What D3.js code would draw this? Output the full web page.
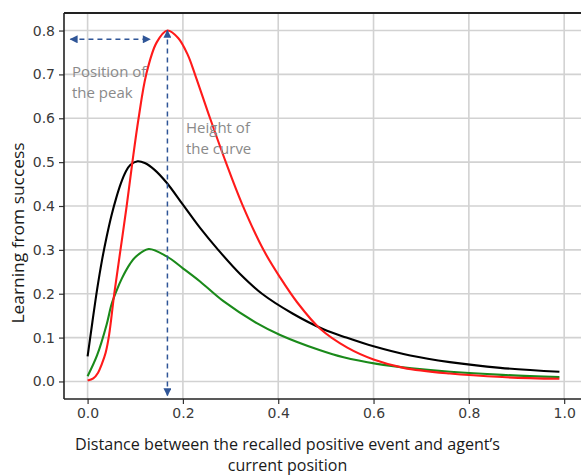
<!DOCTYPE html>
<html>
<head>
<meta charset="utf-8">
<script src="https://cdn.jsdelivr.net/npm/d3@7"></script>
<style>
  html, body { margin: 0; padding: 0; background: #fff; }
  svg { display: block; }
</style>
</head>
<body>
<svg id="chart" width="581" height="475"></svg>
<script>
// Learning-from-success curves: [distance, value] pairs per curve
const redCurve = [
  [0, 0.002], [0.012, 0.007], [0.022, 0.02], [0.03, 0.04], [0.038, 0.066],
  [0.045, 0.105], [0.056, 0.2], [0.069, 0.3], [0.082, 0.4], [0.094, 0.5],
  [0.107, 0.6], [0.123, 0.7], [0.145, 0.773], [0.1675, 0.8], [0.19, 0.783],
  [0.21, 0.745], [0.226, 0.698], [0.257, 0.6], [0.29, 0.5], [0.324, 0.405],
  [0.369, 0.3], [0.404, 0.237], [0.44, 0.18], [0.488, 0.12], [0.545, 0.077],
  [0.6, 0.05], [0.663, 0.031], [0.76, 0.018], [0.87, 0.01], [0.99, 0.006]
];
const blackCurve = [
  [0, 0.057], [0.01, 0.135], [0.02, 0.21], [0.03, 0.275], [0.04, 0.33],
  [0.05, 0.378], [0.06, 0.418], [0.07, 0.452], [0.08, 0.478], [0.09, 0.494],
  [0.105, 0.502], [0.12, 0.498], [0.14, 0.483], [0.166, 0.453], [0.2, 0.403],
  [0.236, 0.35], [0.274, 0.3], [0.32, 0.245], [0.366, 0.2], [0.43, 0.155],
  [0.495, 0.119], [0.543, 0.1], [0.6, 0.08], [0.677, 0.059], [0.76, 0.044],
  [0.866, 0.031], [0.99, 0.022]
];
const greenCurve = [
  [0, 0.012], [0.02, 0.06], [0.04, 0.13], [0.05, 0.175], [0.06, 0.205],
  [0.072, 0.235], [0.089, 0.268], [0.1, 0.283], [0.128, 0.302], [0.166, 0.285],
  [0.2, 0.258], [0.236, 0.228], [0.285, 0.183], [0.355, 0.133], [0.404, 0.106],
  [0.488, 0.071], [0.537, 0.055], [0.607, 0.04], [0.68, 0.03], [0.761, 0.022],
  [0.87, 0.015], [0.99, 0.01]
];

const xTicks = [0, 0.2, 0.4, 0.6, 0.8, 1.0];
const yTicks = [0, 0.1, 0.2, 0.3, 0.4, 0.5, 0.6, 0.7, 0.8];

// Annotation arrows (data units)
const peakArrowX = [-0.036, 0.131];   // horizontal span, drawn at peakArrowY
const peakArrowY = 0.78;
const heightArrowX = 0.1675;          // vertical arrow at the red curve's peak
const heightArrowY = [0.8, -0.032];

const series = [
  { data: blackCurve, color: "#000000" },
  { data: greenCurve, color: "#1a8a1a" },
  { data: redCurve,   color: "#ff1a1a" }
];

const svg = d3.select("#chart");
const plotLeft = 64, plotRight = 583, plotTop = 13, plotBottom = 399;

const x = d3.scaleLinear().domain([-0.0495, 1.0395]).range([plotLeft, plotRight]);
const y = d3.scaleLinear().domain([-0.04, 0.84]).range([plotBottom, plotTop]);

// grid
const grid = svg.append("g");
grid.selectAll("line.gx").data(xTicks).join("line")
  .attr("class", "gx")
  .attr("x1", d => x(d)).attr("x2", d => x(d))
  .attr("y1", plotTop).attr("y2", plotBottom)
  .attr("stroke", "#d2d2d2").attr("stroke-width", 1.6);
grid.selectAll("line.gy").data(yTicks).join("line")
  .attr("class", "gy")
  .attr("x1", plotLeft).attr("x2", plotRight)
  .attr("y1", d => y(d)).attr("y2", d => y(d))
  .attr("stroke", "#d2d2d2").attr("stroke-width", 1.6);

// curves
const line = d3.line().x(d => x(d[0])).y(d => y(d[1]))
  .curve(d3.curveCatmullRom.alpha(0.5));
svg.append("g").selectAll("path").data(series).join("path")
  .attr("d", d => line(d.data))
  .attr("fill", "none")
  .attr("stroke", d => d.color)
  .attr("stroke-width", 2.1)
  .attr("stroke-linejoin", "round");

// axes
const tickFont = "'DejaVu Sans', sans-serif";
const xAxis = svg.append("g").attr("transform", `translate(0,${plotBottom})`)
  .call(d3.axisBottom(x).tickValues(xTicks).tickFormat(d3.format(".1f"))
    .tickSize(5).tickPadding(4));
const yAxis = svg.append("g").attr("transform", `translate(${plotLeft},0)`)
  .call(d3.axisLeft(y).tickValues(yTicks).tickFormat(d3.format(".1f"))
    .tickSize(5).tickPadding(4));
[xAxis, yAxis].forEach(g => {
  g.select(".domain").remove();
  g.selectAll(".tick line").attr("stroke", "#333").attr("stroke-width", 1.2);
  g.selectAll(".tick text").attr("fill", "#3a3a3a")
    .style("font-family", tickFont).style("font-size", "14px");
});

// frame
svg.append("line").attr("x1", plotLeft).attr("x2", plotRight).attr("y1", plotBottom).attr("y2", plotBottom)
  .attr("stroke", "#222").attr("stroke-width", 1.6);
svg.append("line").attr("x1", plotLeft).attr("x2", plotLeft).attr("y1", plotTop).attr("y2", plotBottom)
  .attr("stroke", "#222").attr("stroke-width", 1.6);
svg.append("line").attr("x1", plotLeft).attr("x2", plotRight).attr("y1", plotTop).attr("y2", plotTop)
  .attr("stroke", "#222").attr("stroke-width", 2);

// arrows
const arrowColor = "#2f5597";
const defs = svg.append("defs");
defs.append("marker").attr("id", "tip")
  .attr("viewBox", "0 0 10 10").attr("refX", 9).attr("refY", 5)
  .attr("markerWidth", 9).attr("markerHeight", 8)
  .attr("markerUnits", "userSpaceOnUse")
  .attr("orient", "auto-start-reverse")
  .append("path").attr("d", "M0,0 L10,5 L0,10 Z").attr("fill", arrowColor);

svg.append("line")
  .attr("x1", x(peakArrowX[0])).attr("x2", x(peakArrowX[1]))
  .attr("y1", y(peakArrowY)).attr("y2", y(peakArrowY))
  .attr("stroke", arrowColor).attr("stroke-width", 1.5)
  .attr("stroke-dasharray", "5,4")
  .attr("marker-start", "url(#tip)").attr("marker-end", "url(#tip)");
svg.append("line")
  .attr("x1", x(heightArrowX)).attr("x2", x(heightArrowX))
  .attr("y1", y(heightArrowY[0])).attr("y2", y(heightArrowY[1]))
  .attr("stroke", arrowColor).attr("stroke-width", 1.5)
  .attr("stroke-dasharray", "5,4")
  .attr("marker-start", "url(#tip)").attr("marker-end", "url(#tip)");

// annotation text
const labelFont = "'Open Sans', sans-serif";
const note = svg.append("g").attr("fill", "#8a8a8a")
  .style("font-family", labelFont).style("font-size", "15px");
note.append("text").attr("x", 72).attr("y", 77).text("Position of");
note.append("text").attr("x", 72).attr("y", 98).text("the peak");
note.append("text").attr("x", 186).attr("y", 133).text("Height of");
note.append("text").attr("x", 186).attr("y", 154).text("the curve");

// axis titles
const title = svg.append("g").attr("fill", "#1a1a1a")
  .style("font-family", labelFont).style("font-size", "16px");
title.append("text").attr("x", 287.5).attr("y", 450).attr("text-anchor", "middle")
  .attr("textLength", 425).attr("lengthAdjust", "spacingAndGlyphs")
  .text("Distance between the recalled positive event and agent\u2019s");
title.append("text").attr("x", 287.5).attr("y", 471).attr("text-anchor", "middle")
  .text("current position");
title.append("text")
  .attr("transform", "translate(24,233) rotate(-90)")
  .attr("text-anchor", "middle")
  .attr("textLength", 181).attr("lengthAdjust", "spacingAndGlyphs")
  .text("Learning from success");
</script>
</body>
</html>
